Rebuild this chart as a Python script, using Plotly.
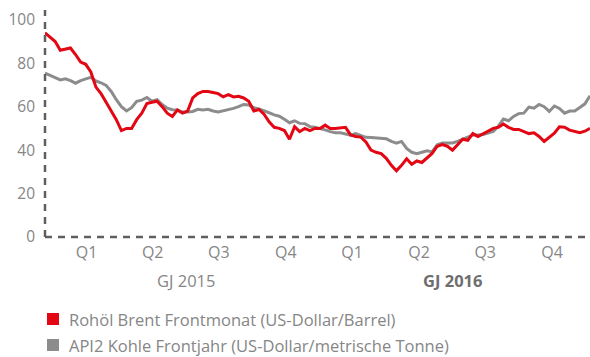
import pandas as pd
import plotly.graph_objects as go

# Weekly observations
dates = pd.date_range("2014-12-19", periods=108, freq="7D")

brent = [
    94, 92, 90, 86, 86.5, 87, 84, 80.5, 79.5, 76,
    69, 66, 62, 58, 54, 49, 50, 50, 54, 57,
    61.4, 62, 62.5, 60, 57, 55.5, 58.5, 57, 58, 64,
    66, 67, 67, 66.5, 66, 64.5, 65.5, 64.5, 64.8, 64,
    62.5, 58, 58.7, 56.5, 53, 50.5, 50, 49, 45, 50.8,
    48.5, 50, 49, 50, 50, 51.5, 50, 50, 50.3, 50.5,
    47, 46.3, 46, 43.8, 40, 39, 38.4, 36.2, 33, 30.5,
    33, 36, 33.5, 35, 34.3, 36.6, 38.5, 41.8, 42.5, 41.8,
    40, 42.5, 45, 44.5, 47.6, 46.2, 47.5, 49, 50, 50.5,
    52, 50.5, 49.5, 49.5, 48.7, 47.6, 48, 46.3, 44, 46,
    47.8, 50.7, 50.5, 49.2, 48.5, 48, 48.7, 50,
]

coal = [
    75.5, 74.5, 73.5, 72.3, 72.8, 72, 70.8, 72, 72.8, 73.5,
    71.8, 71, 69.8, 67, 63.2, 60, 58, 59.5, 62.5, 63,
    64.2, 62.5, 63.2, 61, 59.3, 58.6, 58.5, 57.5, 57.5, 57.8,
    58.8, 58.5, 58.8, 58, 57.6, 58.1, 58.6, 59.2, 60, 61,
    60.8, 59.5, 59, 58.2, 57.2, 56.2, 55.6, 54.2, 52.6, 53.5,
    52.3, 52.2, 50.8, 50.5, 50, 49.3, 48.5, 48, 48, 47.6,
    46.9, 47.6, 46.8, 45.9, 45.8, 45.5, 45.2, 45.2, 44, 43.2,
    44, 40.8, 39, 38.3, 39, 39.7, 39.2, 42.5, 43.3, 43.2,
    43.3, 44, 45, 46.2, 47, 47, 47.2, 47.8, 48.6, 51,
    54.3, 53.5, 55.5, 56.8, 57, 59.8, 59.3, 61, 60, 57.8,
    60.3, 59.2, 57, 58, 58, 59.6, 61.3, 65,
]

quarter_dates = ["2015-02-14", "2015-05-16", "2015-08-15", "2015-11-15",
                 "2016-02-14", "2016-05-16", "2016-08-15", "2016-11-15"]
quarter_labels = ["Q1", "Q2", "Q3", "Q4", "Q1", "Q2", "Q3", "Q4"]
year_dates = ["2015-07-01", "2016-07-01"]
year_labels = ["GJ 2015", "<b>GJ 2016</b>"]

series_names = ["Rohöl Brent Frontmonat (US-Dollar/Barrel)",
                "API2 Kohle Frontjahr (US-Dollar/metrische Tonne)"]
RED = "#E30613"
GREY = "#8C8C8C"
AXIS = "#5F5F5F"
TEXT = "#868686"
FONT = "Open Sans"

fig = go.Figure()
fig.add_trace(go.Scatter(x=dates, y=coal, mode="lines", name=series_names[1],
                         line=dict(color=GREY, width=3), showlegend=False))
fig.add_trace(go.Scatter(x=dates, y=brent, mode="lines", name=series_names[0],
                         line=dict(color=RED, width=3), showlegend=False))

fig.update_layout(
    width=590, height=357,
    margin=dict(l=45, r=0, t=10, b=120),
    paper_bgcolor="white", plot_bgcolor="white",
    font=dict(family=FONT, size=16, color=TEXT),
    xaxis=dict(
        range=["2014-12-19", "2017-01-06"],
        tickvals=quarter_dates, ticktext=quarter_labels,
        showgrid=False, zeroline=False, showline=False,
        ticks="", ticklabelstandoff=4,
        tickfont=dict(size=16, color=TEXT),
    ),
    yaxis=dict(
        range=[0, 104.5], tickvals=[0, 20, 40, 60, 80, 100],
        showgrid=False, zeroline=False, showline=False,
        ticks="", ticklabelstandoff=9,
        tickfont=dict(size=15.5, color=TEXT),
    ),
)

# dashed axis lines
fig.add_shape(type="line", xref="paper", yref="paper", x0=0, x1=0, y0=0, y1=1,
              line=dict(color=AXIS, width=2.5, dash="7px,6px"))
fig.add_shape(type="line", xref="paper", yref="paper", x0=0, x1=1, y0=0, y1=0,
              line=dict(color=AXIS, width=2.5, dash="7px,6px"))

# fiscal-year captions
for d, lab in zip(year_dates, year_labels):
    fig.add_annotation(x=d, xref="x", y=-0.19, yref="paper", text=lab,
                       showarrow=False, xanchor="center", yanchor="middle",
                       font=dict(size=16.5, color="#6E6E6E" if "<b>" in lab else TEXT))

# legend rows
ph = 227.0
pw = 545.0
for k, (name, col) in enumerate(zip(series_names, [RED, GREY])):
    cy = (237 - (319 + 26 * k)) / ph
    fig.add_shape(type="rect", xref="paper", yref="paper",
                  x0=2 / pw, x1=14 / pw, y0=cy - 6 / ph, y1=cy + 6 / ph,
                  fillcolor=col, line=dict(width=0))
    fig.add_annotation(x=23 / pw, xref="paper", y=cy, yref="paper", text=name,
                       showarrow=False, xanchor="left", yanchor="middle",
                       borderpad=0, font=dict(size=16.5, color=TEXT))

fig.write_html("out.html")
